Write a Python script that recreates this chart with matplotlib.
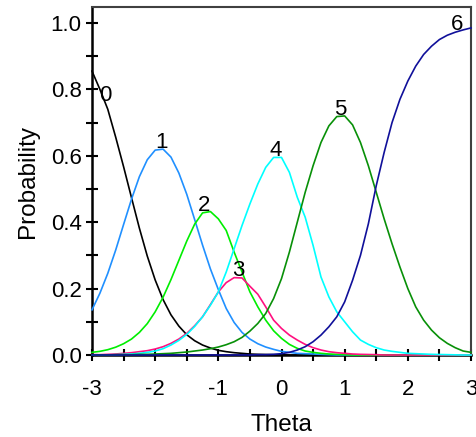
import matplotlib.pyplot as plt
import numpy as np

plt.rcParams['font.family'] = ['Liberation Sans', 'DejaVu Sans']
plt.rcParams['axes.unicode_minus'] = False

# category response curves at theta step 0.125
theta = [-3.0, -2.875, -2.75, -2.625, -2.5, -2.375, -2.25, -2.125, -2.0, -1.875, -1.75, -1.625,
         -1.5, -1.375, -1.25, -1.125, -1.0, -0.875, -0.75, -0.625, -0.5, -0.375, -0.25, -0.125,
         0.0, 0.125, 0.25, 0.375, 0.5, 0.625, 0.75, 0.875, 1.0, 1.125, 1.25, 1.375,
         1.5, 1.625, 1.75, 1.875, 2.0, 2.125, 2.25, 2.375, 2.5, 2.625, 2.75, 2.875, 3.0]
p0 = [0.855, 0.80, 0.74, 0.656, 0.567, 0.474, 0.382, 0.298, 0.226, 0.167, 0.121, 0.087,
      0.061, 0.043, 0.030, 0.021, 0.014, 0.010, 0.007, 0.005, 0.003, 0.002, 0.0015, 0.001,
      0.0007, 0, 0, 0, 0, 0, 0, 0, 0, 0, 0, 0,
      0, 0, 0, 0, 0, 0, 0, 0, 0, 0, 0, 0, 0]
p1 = [0.136, 0.186, 0.246, 0.316, 0.393, 0.469, 0.537, 0.588, 0.617, 0.620, 0.596, 0.548,
      0.484, 0.408, 0.331, 0.259, 0.197, 0.140, 0.098, 0.068, 0.048, 0.034, 0.024, 0.017,
      0.011, 0.008, 0.005, 0.004, 0.003, 0.002, 0.001, 0, 0, 0, 0, 0,
      0, 0, 0, 0, 0, 0, 0, 0, 0, 0, 0, 0, 0]
p2 = [0.008, 0.011, 0.016, 0.0235, 0.034, 0.048, 0.068, 0.0945, 0.130, 0.174, 0.227, 0.285,
      0.343, 0.394, 0.428, 0.432, 0.41, 0.375, 0.31, 0.25, 0.19, 0.145, 0.105, 0.073,
      0.05, 0.032, 0.02, 0.012, 0.008, 0.005, 0.003, 0.002, 0.001, 0, 0, 0,
      0, 0, 0, 0, 0, 0, 0, 0, 0, 0, 0, 0, 0]
p3 = [0.001, 0.001, 0.002, 0.003, 0.005, 0.007, 0.010, 0.013, 0.018, 0.025, 0.035, 0.048,
      0.065, 0.088, 0.115, 0.152, 0.19, 0.218, 0.233, 0.232, 0.207, 0.183, 0.145, 0.105,
      0.08, 0.06, 0.045, 0.032, 0.022, 0.015, 0.010, 0.007, 0.005, 0.003, 0.002, 0.0015,
      0.001, 0, 0, 0, 0, 0, 0, 0, 0, 0, 0, 0, 0]
p4 = [0, 0, 0.0005, 0.001, 0.002, 0.003, 0.005, 0.008, 0.012, 0.019, 0.03, 0.044,
      0.062, 0.086, 0.115, 0.15, 0.19, 0.25, 0.32, 0.39, 0.455, 0.515, 0.565, 0.595,
      0.595, 0.55, 0.475, 0.415, 0.33, 0.235, 0.175, 0.13, 0.10, 0.07, 0.045, 0.032,
      0.022, 0.015, 0.011, 0.008, 0.005, 0.004, 0.003, 0.002, 0.0015, 0.001, 0.0005, 0, 0]
p5 = [0, 0, 0, 0.001, 0.001, 0.001, 0.002, 0.002, 0.003, 0.004, 0.005, 0.007,
      0.009, 0.012, 0.015, 0.019, 0.024, 0.031, 0.04, 0.053, 0.072, 0.095, 0.125, 0.17,
      0.23, 0.31, 0.40, 0.49, 0.57, 0.64, 0.69, 0.718, 0.72, 0.693, 0.64, 0.57,
      0.49, 0.41, 0.335, 0.265, 0.20, 0.145, 0.105, 0.075, 0.052, 0.035, 0.022, 0.012, 0.008]
p6 = [0, 0, 0, 0, 0, 0, 0, 0, 0, 0, 0, 0,
      0, 0, 0, 0, 0, 0, 0, 0, 0, 0.001, 0.001, 0.002,
      0.004, 0.008, 0.015, 0.025, 0.04, 0.06, 0.085, 0.115, 0.16, 0.225, 0.30, 0.395,
      0.51, 0.61, 0.70, 0.77, 0.825, 0.87, 0.905, 0.93, 0.95, 0.963, 0.972, 0.979, 0.985]

curves = [p0, p1, p2, p3, p4, p5, p6]
names = ['0', '1', '2', '3', '4', '5', '6']
colors = ['black', '#2090ff', '#00ee00', '#ff1080', '#00ffff', '#089008', '#10109a']
# theta where each number label sits (peaks, ends for 0 and 6)
label_theta = [-2.79, -1.9, -1.22, -0.69, -0.09, 0.93, 2.78]

fig = plt.figure(figsize=(4.76, 4.37), dpi=100)
ax = fig.add_axes([92/476, 1 - 355/437, 379/476, 348/437])

for y, c in zip(curves, colors):
    ax.plot(theta, y, color=c, lw=1.2, zorder=3, clip_on=False)

for name, t, y in zip(names, label_theta, curves):
    v = np.interp(t, theta, y)
    ax.text(t, v - 0.01, name, fontsize=16, ha='center', va='bottom', zorder=4)

ax.set_xlim(-3, 3)
ax.set_ylim(0, 1.048)
ax.set_xticks(np.arange(-3, 4, 1))
ax.set_xticks(np.arange(-2.5, 3, 1), minor=True)
ax.set_yticks(np.arange(0, 1.01, 0.2))
ax.set_yticks(np.arange(0.1, 1.0, 0.2), minor=True)
ax.set_yticklabels(['0.0', '0.2', '0.4', '0.6', '0.8', '1.0'])
ax.tick_params(which='both', direction='inout', length=9, width=1.5, labelsize=16)
ax.tick_params(axis='x', pad=13)
ax.tick_params(axis='y', pad=3)

for s in ['left', 'bottom']:
    ax.spines[s].set_linewidth(1.8)
    ax.spines[s].set_color('black')
for s in ['top', 'right']:
    ax.spines[s].set_linewidth(1.5)
    ax.spines[s].set_color('#404040')

ax.set_xlabel('Theta', fontsize=17.5, labelpad=10)
ax.set_ylabel('Probability', fontsize=17.5, labelpad=8)

fig.savefig('out.png', dpi=100)
